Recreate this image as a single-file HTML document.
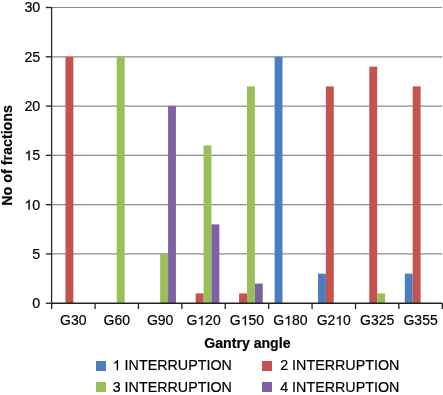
<!DOCTYPE html>
<html><head><meta charset="utf-8"><style>
html,body{margin:0;padding:0;background:#fff;}
svg{display:block;will-change:transform;font-family:"Liberation Sans",sans-serif;}
text{fill:#000;stroke:#000;stroke-width:0.2px;}
path{fill:#000;stroke:#000;stroke-width:0.2px;vector-effect:non-scaling-stroke;}
</style></head><body>
<svg width="443" height="395" viewBox="0 0 443 395">
<line x1="51.65" y1="253.96" x2="442.30" y2="253.96" stroke="#8c8c8c" stroke-width="1.2"/>
<line x1="51.65" y1="204.67" x2="442.30" y2="204.67" stroke="#8c8c8c" stroke-width="1.2"/>
<line x1="51.65" y1="155.38" x2="442.30" y2="155.38" stroke="#8c8c8c" stroke-width="1.2"/>
<line x1="51.65" y1="106.08" x2="442.30" y2="106.08" stroke="#8c8c8c" stroke-width="1.2"/>
<line x1="51.65" y1="56.79" x2="442.30" y2="56.79" stroke="#8c8c8c" stroke-width="1.2"/>
<line x1="51.65" y1="7.50" x2="442.30" y2="7.50" stroke="#8c8c8c" stroke-width="1.2"/>
<rect x="65.46" y="56.79" width="7.89" height="246.46" fill="#C4524D"/>
<rect x="116.76" y="56.79" width="7.89" height="246.46" fill="#9BBE57"/>
<rect x="160.16" y="253.96" width="7.89" height="49.29" fill="#9BBE57"/>
<rect x="168.06" y="106.08" width="7.89" height="197.17" fill="#7F62A4"/>
<rect x="195.68" y="293.39" width="7.89" height="9.86" fill="#C4524D"/>
<rect x="203.57" y="145.52" width="7.89" height="157.73" fill="#9BBE57"/>
<rect x="211.46" y="224.38" width="7.89" height="78.87" fill="#7F62A4"/>
<rect x="239.08" y="293.39" width="7.89" height="9.86" fill="#C4524D"/>
<rect x="246.97" y="86.37" width="7.89" height="216.88" fill="#9BBE57"/>
<rect x="254.87" y="283.53" width="7.89" height="19.72" fill="#7F62A4"/>
<rect x="274.60" y="56.79" width="7.89" height="246.46" fill="#4A7EC0"/>
<rect x="318.00" y="273.68" width="7.89" height="29.57" fill="#4A7EC0"/>
<rect x="325.89" y="86.37" width="7.89" height="216.88" fill="#C4524D"/>
<rect x="369.30" y="66.65" width="7.89" height="236.60" fill="#C4524D"/>
<rect x="377.19" y="293.39" width="7.89" height="9.86" fill="#9BBE57"/>
<rect x="404.81" y="273.68" width="7.89" height="29.57" fill="#4A7EC0"/>
<rect x="412.71" y="86.37" width="7.89" height="216.88" fill="#C4524D"/>
<line x1="51.6" y1="6.90" x2="51.6" y2="303.25" stroke="#2a2a2a" stroke-width="1.3"/>
<line x1="51.05" y1="303.25" x2="442.30" y2="303.25" stroke="#222" stroke-width="1.3"/>
<line x1="45.8" y1="303.25" x2="51.6" y2="303.25" stroke="#222" stroke-width="1.3"/>
<line x1="45.8" y1="253.96" x2="51.6" y2="253.96" stroke="#222" stroke-width="1.3"/>
<line x1="45.8" y1="204.67" x2="51.6" y2="204.67" stroke="#222" stroke-width="1.3"/>
<line x1="45.8" y1="155.38" x2="51.6" y2="155.38" stroke="#222" stroke-width="1.3"/>
<line x1="45.8" y1="106.08" x2="51.6" y2="106.08" stroke="#222" stroke-width="1.3"/>
<line x1="45.8" y1="56.79" x2="51.6" y2="56.79" stroke="#222" stroke-width="1.3"/>
<line x1="45.8" y1="7.50" x2="51.6" y2="7.50" stroke="#222" stroke-width="1.3"/>
<line x1="51.65" y1="303.25" x2="51.65" y2="309.0" stroke="#222" stroke-width="1.3"/>
<line x1="95.06" y1="303.25" x2="95.06" y2="309.0" stroke="#222" stroke-width="1.3"/>
<line x1="138.46" y1="303.25" x2="138.46" y2="309.0" stroke="#222" stroke-width="1.3"/>
<line x1="181.87" y1="303.25" x2="181.87" y2="309.0" stroke="#222" stroke-width="1.3"/>
<line x1="225.27" y1="303.25" x2="225.27" y2="309.0" stroke="#222" stroke-width="1.3"/>
<line x1="268.68" y1="303.25" x2="268.68" y2="309.0" stroke="#222" stroke-width="1.3"/>
<line x1="312.08" y1="303.25" x2="312.08" y2="309.0" stroke="#222" stroke-width="1.3"/>
<line x1="355.49" y1="303.25" x2="355.49" y2="309.0" stroke="#222" stroke-width="1.3"/>
<line x1="398.89" y1="303.25" x2="398.89" y2="309.0" stroke="#222" stroke-width="1.3"/>
<line x1="442.30" y1="303.25" x2="442.30" y2="309.0" stroke="#222" stroke-width="1.3"/>
<rect x="96" y="361" width="10" height="10" fill="#4A7EC0"/>
<rect x="262" y="361" width="10" height="10" fill="#C4524D"/>
<rect x="96" y="382" width="10" height="10" fill="#9BBE57"/>
<rect x="262" y="382" width="10" height="10" fill="#7F62A4"/>
<text x="40.3" y="308.15" text-anchor="end" font-size="14.3">0</text>
<text x="40.3" y="258.86" text-anchor="end" font-size="14.3">5</text>
<text x="40.3" y="209.57" text-anchor="end" font-size="14.3"> 0</text>
<text x="40.3" y="160.28" text-anchor="end" font-size="14.3"> 5</text>
<text x="40.3" y="110.98" text-anchor="end" font-size="14.3">20</text>
<text x="40.3" y="61.69" text-anchor="end" font-size="14.3">25</text>
<text x="40.3" y="12.40" text-anchor="end" font-size="14.3">30</text>
<text x="73.35" y="325.3" text-anchor="middle" font-size="14.0">G30</text>
<text x="116.76" y="325.3" text-anchor="middle" font-size="14.0">G60</text>
<text x="160.16" y="325.3" text-anchor="middle" font-size="14.0">G90</text>
<text x="203.57" y="325.3" text-anchor="middle" font-size="14.0">G 20</text>
<text x="246.98" y="325.3" text-anchor="middle" font-size="14.0">G 50</text>
<text x="290.38" y="325.3" text-anchor="middle" font-size="14.0">G 80</text>
<text x="333.79" y="325.3" text-anchor="middle" font-size="14.0">G2 0</text>
<text x="377.19" y="325.3" text-anchor="middle" font-size="14.0">G325</text>
<text x="420.60" y="325.3" text-anchor="middle" font-size="14.0">G355</text>
<text x="247.4" y="347.7" text-anchor="middle" font-size="14.1" font-weight="bold">Gantry angle</text>
<text transform="translate(12.4,155.4) rotate(-90)" text-anchor="middle" font-size="14.3" font-weight="bold">No of fractions</text>
<text transform="translate(112.7,370.3) scale(1,1.05)" font-size="14.3">  INTERRUPTION</text>
<text transform="translate(280.2,370.3) scale(1,1.05)" font-size="14.3">2 INTERRUPTION</text>
<text transform="translate(112.7,391.5) scale(1,1.05)" font-size="14.3">3 INTERRUPTION</text>
<text transform="translate(280.2,391.5) scale(1,1.05)" font-size="14.3">4 INTERRUPTION</text>
<path d="M763 0L583 0L583 1098C540 1058 483 1018 413 979C343 940 280 910 225 890L225 1057C326 1102 414 1157 489 1221C564 1285 617 1349 648 1409L763 1409Z" transform="translate(24.39,209.57) scale(0.006982,-0.006982)"/>
<path d="M763 0L583 0L583 1098C540 1058 483 1018 413 979C343 940 280 910 225 890L225 1057C326 1102 414 1157 489 1221C564 1285 617 1349 648 1409L763 1409Z" transform="translate(24.39,160.28) scale(0.006982,-0.006982)"/>
<path d="M763 0L583 0L583 1098C540 1058 483 1018 413 979C343 940 280 910 225 890L225 1057C326 1102 414 1157 489 1221C564 1285 617 1349 648 1409L763 1409Z" transform="translate(197.32,325.30) scale(0.006836,-0.006836)"/>
<path d="M763 0L583 0L583 1098C540 1058 483 1018 413 979C343 940 280 910 225 890L225 1057C326 1102 414 1157 489 1221C564 1285 617 1349 648 1409L763 1409Z" transform="translate(240.73,325.30) scale(0.006836,-0.006836)"/>
<path d="M763 0L583 0L583 1098C540 1058 483 1018 413 979C343 940 280 910 225 890L225 1057C326 1102 414 1157 489 1221C564 1285 617 1349 648 1409L763 1409Z" transform="translate(284.13,325.30) scale(0.006836,-0.006836)"/>
<path d="M763 0L583 0L583 1098C540 1058 483 1018 413 979C343 940 280 910 225 890L225 1057C326 1102 414 1157 489 1221C564 1285 617 1349 648 1409L763 1409Z" transform="translate(335.34,325.30) scale(0.006836,-0.006836)"/>
<path d="M763 0L583 0L583 1098C540 1058 483 1018 413 979C343 940 280 910 225 890L225 1057C326 1102 414 1157 489 1221C564 1285 617 1349 648 1409L763 1409Z" transform="translate(112.70,370.30) scale(0.006982,-0.007332)"/>
</svg>
</body></html>
